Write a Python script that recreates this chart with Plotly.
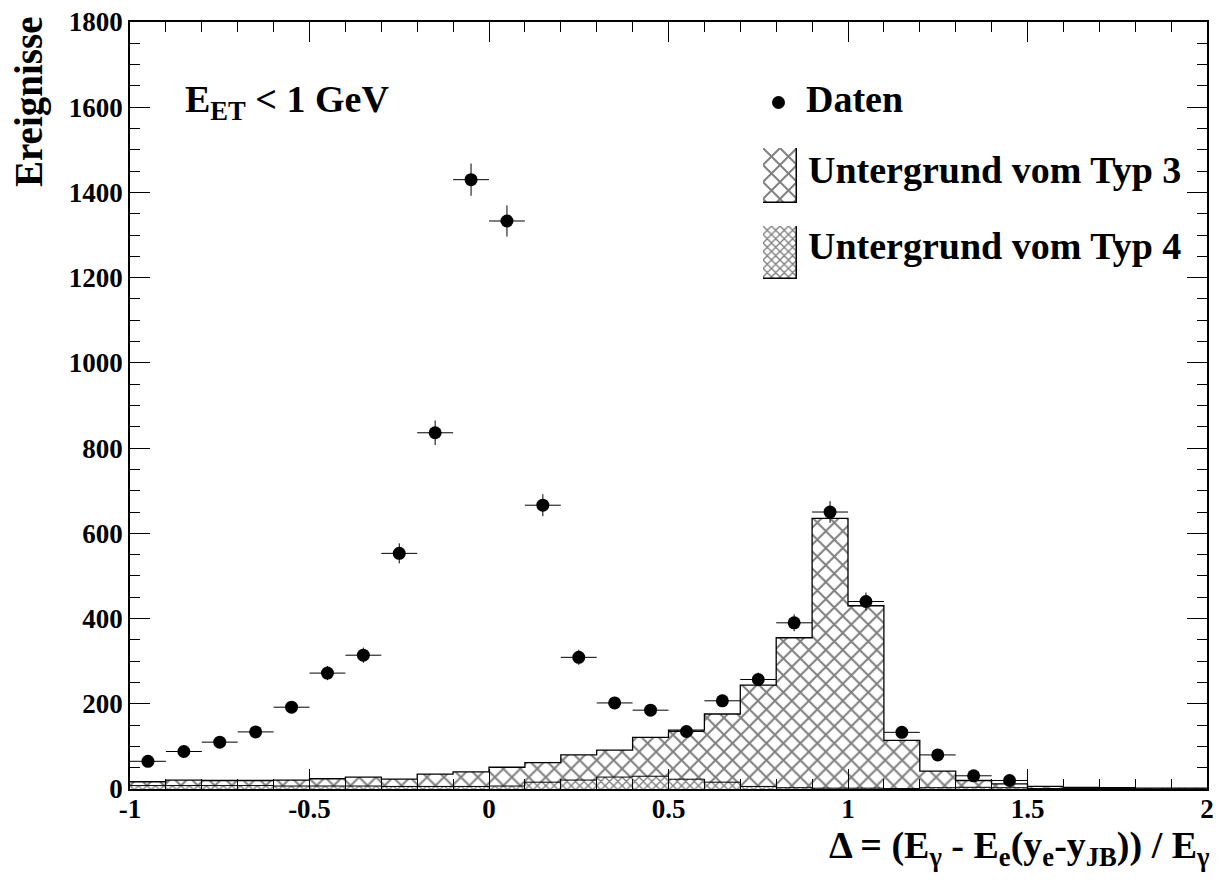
import numpy as np
import plotly.graph_objects as go

# histogram binning: 30 bins of width 0.1 between -1 and 2
BIN_LO = -1.0
BIN_W = 0.1
N_BINS = 30

# data points (first 25 bins)
data_counts = [65, 88, 110, 134, 192, 272, 314, 553, 836, 1430,
               1333, 666, 309, 202, 185, 135, 207, 257, 390, 650,
               440, 133, 80, 31, 20]

# background of type 3 (drawn from zero, contains type 4)
typ3_counts = [17, 21, 20, 20, 21, 24, 28, 23, 35, 40,
               51, 62, 80, 91, 121, 138, 176, 244, 355, 635,
               430, 114, 42, 20, 12, 6, 4, 3, 2, 2]

# background of type 4
typ4_counts = [8, 8, 8, 8, 7, 7, 7, 6, 6, 6,
               7, 16, 21, 28, 30, 23, 16, 6, 3, 2,
               2, 1, 3, 4, 3, 1, 1, 1, 0, 0]

x_tickvals = [-1, -0.5, 0, 0.5, 1, 1.5, 2]
x_ticktext = ["-1", "-0.5", "0", "0.5", "1", "1.5", "2"]

FONT = "Liberation Serif, Times New Roman, serif"
# page has an 8px body margin and content is clipped at page x 1213;
# plot area spans page px 130..1207, 22..789
W, H = 1205, 874
PX0, PX1, PY0, PY1 = 130, 1207, 22, 789
L, R, T, B = PX0 - 8, W + 8 - PX1, PY0 - 8, H + 8 - PY1

edges = np.round(BIN_LO + BIN_W * np.arange(N_BINS + 1), 3)
centers = np.round(edges[:-1] + BIN_W / 2, 3)


def px_x(p):
    return (p - PX0) / (PX1 - PX0)


def px_y(p):
    return (PY1 - p) / (PY1 - PY0)


fig = go.Figure()

HATCH3 = dict(shape="x", size=12, solidity=0.3, fgcolor="black", bgcolor="white")
HATCH4 = dict(shape="x", size=6, solidity=0.4, fgcolor="black", bgcolor="white")

# type 3 hatched bars
fig.add_trace(go.Bar(
    x=centers, y=typ3_counts, width=BIN_W,
    marker=dict(color="white", line=dict(width=0), pattern=HATCH3),
    hoverinfo="skip", showlegend=False,
))
# type 4 dense hatched bars
fig.add_trace(go.Bar(
    x=centers, y=typ4_counts, width=BIN_W,
    marker=dict(color="white", line=dict(width=0), pattern=HATCH4),
    hoverinfo="skip", showlegend=False,
))

# step outlines
for vals, lw in ((typ3_counts, 1.3), (typ4_counts, 1.0)):
    fig.add_trace(go.Scatter(
        x=edges, y=list(vals) + [vals[-1]],
        mode="lines", line=dict(color="black", width=lw, shape="hv"),
        hoverinfo="skip", showlegend=False,
    ))

# data points with errors
n_data = len(data_counts)
fig.add_trace(go.Scatter(
    x=centers[:n_data], y=data_counts,
    mode="markers",
    marker=dict(color="black", size=13),
    error_x=dict(type="constant", value=BIN_W / 2, color="black",
                 thickness=1, width=0),
    error_y=dict(type="data", array=np.sqrt(data_counts), color="black",
                 thickness=1, width=0),
    hoverinfo="skip", showlegend=False,
))

axis_common = dict(
    showline=True, linecolor="black", linewidth=1.5, mirror="allticks",
    ticks="inside", ticklen=20, tickwidth=1, tickcolor="black",
    showgrid=False, zeroline=False, ticklabeloverflow="allow",
    automargin=False,
    tickfont=dict(family=FONT, size=27, color="black", weight="bold"),
)

fig.update_xaxes(
    range=[-1, 2], tickmode="array", tickvals=x_tickvals, ticktext=x_ticktext,
    minor=dict(ticks="inside", ticklen=10, tickcolor="black", tickwidth=1,
               tickmode="linear", tick0=-1, dtick=0.1),
    ticklabelstandoff=-5,
    **axis_common,
)
fig.update_yaxes(
    range=[0, 1800], tickmode="linear", tick0=0, dtick=200,
    minor=dict(ticks="inside", ticklen=10, tickcolor="black", tickwidth=1,
               tickmode="linear", tick0=0, dtick=50),
    **axis_common,
)

# legend swatches on small hidden axes
swatches = [
    ("x2", "y2", (763, 797, 148, 203), HATCH3),
    ("x3", "y3", (763, 797, 226, 279), HATCH4),
]
for xa, ya, (x0, x1, y0, y1), hatch in swatches:
    fig.add_trace(go.Bar(
        x=[0.5], y=[1], width=1, xaxis=xa, yaxis=ya,
        marker=dict(color="white", line=dict(color="black", width=1.5),
                    pattern=hatch),
        hoverinfo="skip", showlegend=False,
    ))
    hidden = dict(visible=False, range=[0, 1], fixedrange=True,
                  automargin=False)
    fig.layout["xaxis" + xa[1:]] = dict(domain=[px_x(x0), px_x(x1)],
                                         anchor=ya, **hidden)
    fig.layout["yaxis" + ya[1:]] = dict(domain=[px_y(y1), px_y(y0)],
                                         anchor=xa, **hidden)

# legend marker for data
fig.add_shape(type="circle", xref="paper", yref="paper",
              x0=px_x(772), x1=px_x(785), y0=px_y(109), y1=px_y(96),
              fillcolor="black", line=dict(color="black", width=0))

big = dict(family=FONT, size=38, color="black", weight="bold")
texts = [
    ("Daten", 804, 99),
    ("Untergrund vom Typ 3", 806, 170),
    ("Untergrund vom Typ 4", 806, 246),
]
for txt, xp, yp in texts:
    fig.add_annotation(text=txt, xref="paper", yref="paper",
                       x=px_x(xp), y=px_y(yp), xanchor="left",
                       yanchor="middle", showarrow=False, font=big)

fig.add_annotation(text="E<sub>ET</sub> &lt; 1 GeV", xref="paper", yref="paper",
                   x=px_x(183), y=px_y(76), xanchor="left", yanchor="top",
                   showarrow=False, font=big)

fig.add_annotation(text="Ereignisse", xref="paper", yref="paper",
                   x=px_x(29), y=px_y(15), xanchor="center", yanchor="top",
                   textangle=-90, showarrow=False,
                   font=dict(big, size=39))

fig.add_annotation(
    text="Δ = (E<sub>γ</sub> - E<sub>e</sub>(y<sub>e</sub>-y<sub>JB</sub>)) / E<sub>γ</sub>",
    xref="paper", yref="paper", x=px_x(1212), y=px_y(822), xanchor="right",
    yanchor="top", showarrow=False, font=big)

fig.update_layout(
    width=W, height=H,
    margin=dict(l=L, r=R, t=T, b=B),
    plot_bgcolor="white", paper_bgcolor="white",
    barmode="overlay", bargap=0,
    showlegend=False,
    font=dict(family=FONT, color="black"),
)

fig.write_html("out.html")
